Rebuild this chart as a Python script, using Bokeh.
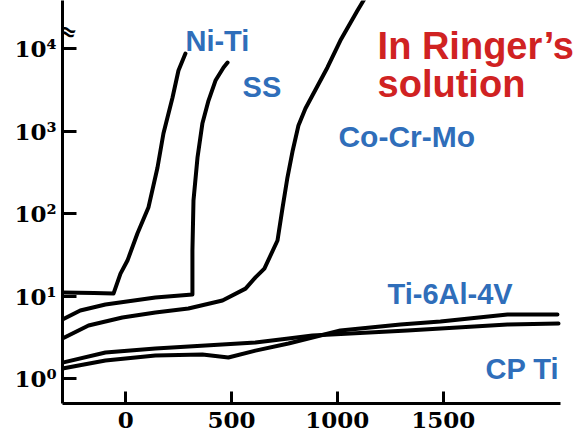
from bokeh.plotting import figure
from bokeh.models import FixedTicker, Label, Range1d
from bokeh.embed import file_html
from bokeh.resources import INLINE

# Potential (mV) vs current density, in Ringer's solution
niti_x = [-299, -150, -58, -25, 8, 55, 107, 150, 178, 221, 249, 282]
niti_y = [11.0, 10.9, 10.7, 18.7, 26.9, 57.2, 118, 361, 933, 2550, 5410, 8700]

ss_x = [-299, -215, -96, 140, 315, 315, 320, 339, 362, 391, 424, 462, 481]
ss_y = [5.19, 6.67, 7.88, 9.59, 10.4, 35.6, 144, 477, 1230, 2340, 4090, 5890, 6760]

cocrmo_x = [-299, -176, -16, 140, 296, 457, 566, 613, 655, 717, 741, 764, 789, 816, 849, 887, 953, 1014, 1095, 1140]
cocrmo_y = [3.05, 4.39, 5.49, 6.31, 7.05, 8.82, 12.3, 16.8, 21.5, 47.1, 118, 273, 581, 1166, 1875, 2850, 5890, 12500, 28900, 45000]

ti64_x = [-299, -96, 140, 362, 485, 613, 769, 882, 1014, 1298, 1487, 1804, 2040]
ti64_y = [1.32, 1.65, 1.90, 1.95, 1.80, 2.18, 2.66, 3.14, 3.82, 4.51, 4.91, 5.97, 5.97]

cpti_x = [-299, -96, 140, 377, 613, 769, 882, 1331, 1804, 2045]
cpti_y = [1.56, 2.07, 2.31, 2.51, 2.73, 3.05, 3.32, 3.82, 4.51, 4.64]

x_ticks = [0, 500, 1000, 1500]
y_ticks = [1, 10, 100, 1000, 10000]
y_tick_labels = ["10\u2070", "10\u00b9", "10\u00b2", "10\u00b3", "10\u2074"]

BLUE = "#2F6EBA"
RED = "#D02222"

p = figure(width=576, height=437,
           x_range=Range1d(-299, 2130), y_range=Range1d(0.498, 38200),
           y_axis_type="log", output_backend="svg", toolbar_location=None,
           min_border_left=62, min_border_right=0, min_border_top=0, min_border_bottom=34)
p.outline_line_color = None
p.xgrid.visible = False
p.ygrid.visible = False
p.background_fill_color = "white"
p.border_fill_color = "white"

for ax in (p.xaxis[0], p.yaxis[0]):
    ax.axis_line_width = 3
    ax.axis_line_color = "black"
    ax.major_tick_line_width = 3
    ax.major_tick_line_color = "black"
    ax.major_tick_out = 0
    ax.minor_tick_line_color = None
    ax.major_label_text_font = "DejaVu Serif"
    ax.major_label_text_font_style = "bold"
    ax.major_label_text_font_size = "23px"
    ax.major_label_text_color = "black"

p.xaxis[0].ticker = FixedTicker(ticks=x_ticks)
p.xaxis[0].bounds = (-299, 2054)
p.xaxis[0].major_tick_in = 12
p.xaxis[0].major_label_standoff = 8
p.yaxis[0].ticker = FixedTicker(ticks=y_ticks)
p.yaxis[0].major_tick_in = 14
p.yaxis[0].major_label_standoff = 6
p.yaxis[0].major_label_overrides = {t: s for t, s in zip(y_ticks, y_tick_labels)}

for xs, ys in [(niti_x, niti_y), (ss_x, ss_y), (cocrmo_x, cocrmo_y), (ti64_x, ti64_y), (cpti_x, cpti_y)]:
    p.line(xs, ys, line_color="black", line_width=4, line_join="round", line_cap="round")

def lab(x, y, txt, color, size):
    p.add_layout(Label(x=x, y=y, text=txt, text_color=color, text_font="Liberation Sans",
                       text_font_style="bold", text_font_size=size,
                       text_align="left", text_baseline="alphabetic"))

lab(282, 12500, "Ni-Ti", BLUE, "29px")
lab(552, 3370, "SS", BLUE, "29px")
lab(1005, 858, "Co-Cr-Mo", BLUE, "30px")
lab(1237, 10.7, "Ti-6Al-4V", BLUE, "29px")
lab(1700, 1.32, "CP Ti", BLUE, "29px")
lab(1190, 10870, "In Ringer\u2019s", RED, "38px")
lab(1190, 3765, "solution", RED, "38px")

# axis break mark
p.add_layout(Label(x=-274, y=16070, text="\u2248", text_color="black", text_font="DejaVu Sans",
                   text_font_style="bold", text_font_size="22px", angle=-0.3,
                   text_align="center", text_baseline="middle"))

open("out.html", "w").write(file_html(p, INLINE))
